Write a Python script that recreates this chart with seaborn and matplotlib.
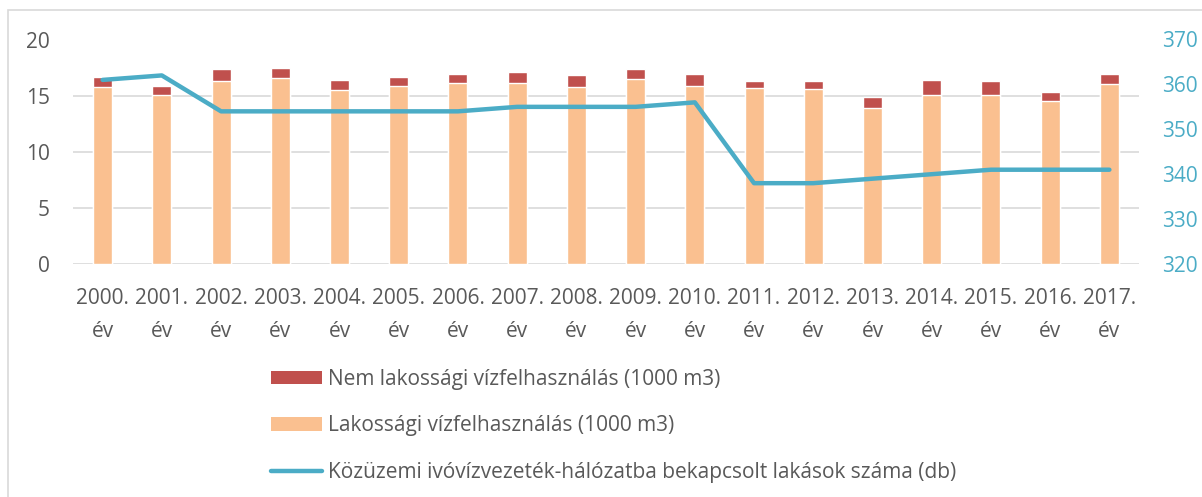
import numpy as np
import pandas as pd
import matplotlib
matplotlib.use("Agg")
import matplotlib.pyplot as plt
from matplotlib.patches import Patch, Rectangle
from matplotlib.lines import Line2D
import seaborn as sns

years = [f"{y}.\név" for y in range(2000, 2018)]
lakossagi = [15.8, 15.1, 16.3, 16.6, 15.5, 15.9, 16.1, 16.1, 15.8, 16.5,
             15.9, 15.7, 15.6, 13.9, 15.1, 15.1, 14.5, 16.0]
nem_lakossagi = [0.9, 0.8, 1.1, 0.9, 0.9, 0.8, 0.8, 1.0, 1.0, 0.9,
                 1.0, 0.6, 0.7, 1.0, 1.3, 1.2, 0.8, 0.9]
lakasok = [361, 362, 354, 354, 354, 354, 354, 355, 355, 355,
           356, 338, 338, 339, 340, 341, 341, 341]

label_nem = "Nem lakossági vízfelhasználás (1000 m3)"
label_lak = "Lakossági vízfelhasználás (1000 m3)"
label_line = "Közüzemi ivóvízvezeték-hálózatba bekapcsolt lakások száma (db)"

c_nem = "#C0504D"
c_lak = "#FAC090"
c_line = "#4BACC6"
c_text = "#595959"
c_grid = "#D9D9D9"

sns.set_theme(style="white")
plt.rcParams["font.family"] = ["Open Sans", "DejaVu Sans"]
FS = 15

df = pd.DataFrame({
    "year": years,
    "lak": lakossagi,
    "total": np.array(lakossagi) + np.array(nem_lakossagi),
    "idx": np.arange(len(years)),
    "lakasok": lakasok,
})

fig = plt.figure(figsize=(12.02, 4.97), dpi=100)
ax = fig.add_axes([73 / 1202, 1 - 264 / 497, (1139 - 73) / 1202, (264 - 39.5) / 497])

# stacked bars: total in red underneath, residential portion on top of it
sns.barplot(data=df, x="year", y="total", color=c_nem, width=0.32,
            saturation=1, ax=ax, zorder=2)
sns.barplot(data=df, x="year", y="lak", color=c_lak, width=0.32,
            saturation=1, ax=ax, zorder=3)

ax.set_ylim(0, 20)
ax.set_yticks([0, 5, 10, 15, 20])
ax.set_xlim(-0.5, len(years) - 0.5)
ax.set_xlabel("")
ax.set_ylabel("")
ax.grid(axis="y", color=c_grid, linewidth=1.2, zorder=0)
ax.set_axisbelow(True)
for s in ax.spines.values():
    s.set_visible(False)
ax.tick_params(axis="y", length=0, pad=16.5, labelsize=FS, labelcolor=c_text)
ax.tick_params(axis="x", length=0, pad=17, labelsize=FS, labelcolor=c_text)
for t in ax.get_xticklabels():
    t.set_linespacing(1.75)
    t.set_horizontalalignment("center")

ax2 = ax.twinx()
sns.lineplot(data=df, x="idx", y="lakasok", color=c_line, linewidth=3.2,
             ax=ax2, zorder=4)
ax2.set_ylim(320, 370)
ax2.set_yticks(range(320, 371, 10))
ax2.set_ylabel("")
ax2.set_xlabel("")
ax2.set_xlim(-0.5, len(years) - 0.5)
for s in ax2.spines.values():
    s.set_visible(False)
ax2.tick_params(axis="y", length=0, pad=16.5, labelsize=FS, labelcolor=c_line)
ax2.grid(False)

handles = [
    Patch(facecolor=c_nem, edgecolor="none", label=label_nem),
    Patch(facecolor=c_lak, edgecolor="none", label=label_lak),
    Line2D([0], [0], color=c_line, linewidth=3.2, label=label_line),
]
leg = fig.legend(handles=handles, loc="upper left",
                 bbox_to_anchor=(271 / 1202, 1 - 369 / 497),
                 frameon=False, fontsize=FS, borderpad=0, borderaxespad=0,
                 handlelength=2.45, handleheight=0.62, handletextpad=0.3,
                 labelspacing=1.22)
for t in leg.get_texts():
    t.set_color(c_text)

# chart area border
fig.patches.append(Rectangle((8 / 1202, -0.05), 1.1, 1 - 10 / 497 + 0.05,
                             transform=fig.transFigure, fill=False,
                             edgecolor="#D9D9D9", linewidth=1.2))

fig.savefig("out.png", dpi=100)
